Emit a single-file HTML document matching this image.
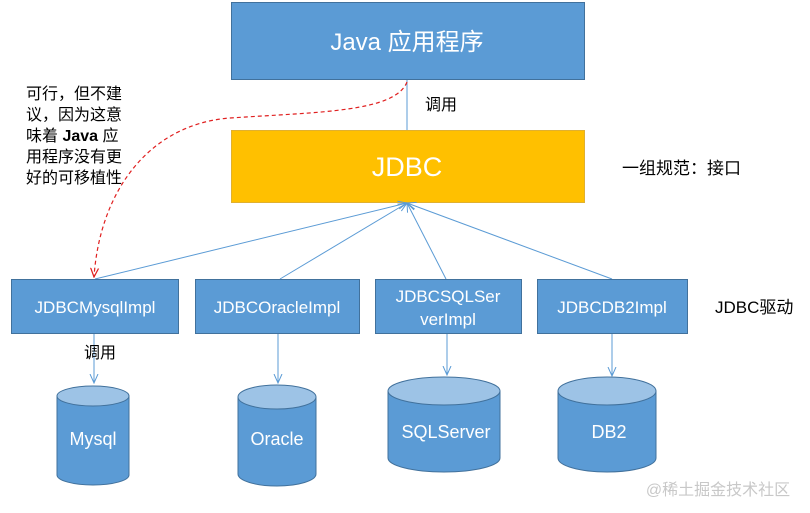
<!DOCTYPE html>
<html><head><meta charset="utf-8"><style>
html,body{margin:0;padding:0;background:#fff;}
svg{display:block;font-family:"Liberation Sans","Noto Sans CJK SC",sans-serif;}
</style></head><body>
<svg width="810" height="513" viewBox="0 0 810 513" xmlns="http://www.w3.org/2000/svg">
<defs>
<marker id="a" markerWidth="10" markerHeight="10" refX="9" refY="5" orient="auto" markerUnits="userSpaceOnUse"><path d="M0,1 L9,5 L0,9" fill="none" stroke="#5b9bd5" stroke-width="1"/></marker>
<marker id="r" markerWidth="10" markerHeight="10" refX="9" refY="5" orient="auto" markerUnits="userSpaceOnUse"><path d="M0,1 L9,5 L0,9" fill="none" stroke="#e02020" stroke-width="1.2"/></marker>
</defs>
<rect x="231.5" y="2.5" width="353" height="77" fill="#5b9bd5" stroke="#41719c"/>
<text x="407" y="50" font-size="24" fill="#fff" text-anchor="middle">Java 应用程序</text>
<line x1="407" y1="80" x2="407" y2="130" stroke="#5b9bd5"/>
<text x="425" y="110" font-size="16" fill="#000">调用</text>
<rect x="231.5" y="130.5" width="353" height="72" fill="#ffc000" stroke="#e0b030"/>
<text x="407" y="176" font-size="27" fill="#fff" text-anchor="middle">JDBC</text>
<text x="622" y="174" font-size="17" fill="#000">一组规范：接口</text>
<g font-size="16" fill="#000">
<text x="26" y="99">可行，但不建</text>
<text x="26" y="120">议，因为这意</text>
<text x="26" y="141">味着 <tspan font-weight="bold">Java</tspan> 应</text>
<text x="26" y="162">用程序没有更</text>
<text x="26" y="183">好的可移植性</text>
</g>
<path d="M407,82 C395,112 320,112 230,118 C150,124 100,190 94,277" fill="none" stroke="#e02020" stroke-width="1.2" stroke-dasharray="4,3" marker-end="url(#r)"/>
<g stroke="#5b9bd5" stroke-width="1" marker-end="url(#a)">
<line x1="95" y1="279" x2="407" y2="203"/>
<line x1="280" y1="279" x2="407" y2="203"/>
<line x1="446" y1="279" x2="407" y2="203"/>
<line x1="612" y1="279" x2="407" y2="203"/>
<line x1="94" y1="333" x2="94" y2="383"/>
<line x1="278" y1="333" x2="278" y2="383"/>
<line x1="447" y1="333" x2="447" y2="375"/>
<line x1="612" y1="333" x2="612" y2="376"/>
</g>
<g fill="#5b9bd5" stroke="#41719c">
<rect x="11.5" y="279.5" width="167" height="54"/>
<rect x="195.5" y="279.5" width="164" height="54"/>
<rect x="375.5" y="279.5" width="146" height="54"/>
<rect x="537.5" y="279.5" width="150" height="54"/>
</g>
<g font-size="17" fill="#fff" text-anchor="middle">
<text x="95" y="313">JDBCMysqlImpl</text>
<text x="277" y="313">JDBCOracleImpl</text>
<text x="448" y="302">JDBCSQLSer</text>
<text x="448" y="325">verImpl</text>
<text x="612" y="313">JDBCDB2Impl</text>
</g>
<text x="715" y="313" font-size="17" fill="#000">JDBC驱动</text>
<text x="84" y="358" font-size="16" fill="#000">调用</text>
<g stroke="#41719c" stroke-width="1">
<path d="M57,396 L57,475 A36,10 0 0 0 129,475 L129,396 Z" fill="#5b9bd5"/>
<ellipse cx="93" cy="396" rx="36" ry="10" fill="#9dc3e6"/>
<path d="M238,397 L238,474 A39,12 0 0 0 316,474 L316,397 Z" fill="#5b9bd5"/>
<ellipse cx="277" cy="397" rx="39" ry="12" fill="#9dc3e6"/>
<path d="M388,391 L388,458 A56,14 0 0 0 500,458 L500,391 Z" fill="#5b9bd5"/>
<ellipse cx="444" cy="391" rx="56" ry="14" fill="#9dc3e6"/>
<path d="M558,391 L558,458 A49,14 0 0 0 656,458 L656,391 Z" fill="#5b9bd5"/>
<ellipse cx="607" cy="391" rx="49" ry="14" fill="#9dc3e6"/>
</g>
<g font-size="18" fill="#fff" text-anchor="middle">
<text x="93" y="445">Mysql</text>
<text x="277" y="445">Oracle</text>
<text x="446" y="438">SQLServer</text>
<text x="609" y="438">DB2</text>
</g>
<text x="718" y="495" font-size="16" fill="#c8c8c8" text-anchor="middle">@稀土掘金技术社区</text>
</svg>
</body></html>
